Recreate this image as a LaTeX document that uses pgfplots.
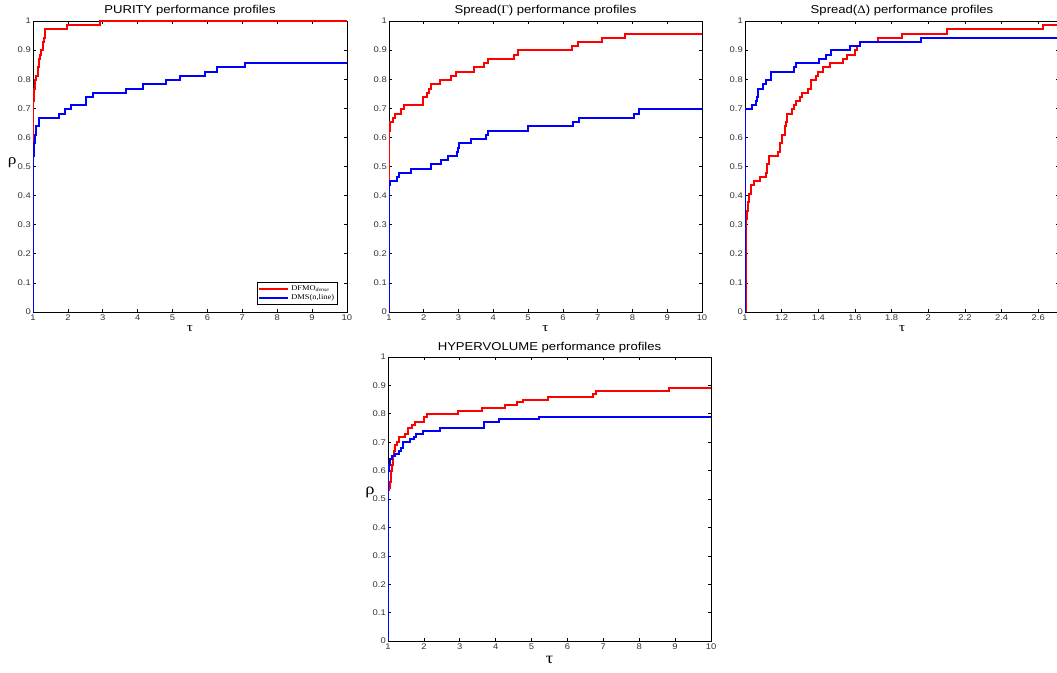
\documentclass[border=0pt]{standalone}
\usepackage{fontspec}
\setmainfont{Liberation Sans}[FakeStretch=1.15]
\newfontfamily\serif{Liberation Serif}[FakeStretch=1.15]
\usepackage{pgfplots}
\pgfplotsset{compat=1.18}
\newcommand\tickfont{\fontsize{8.2}{8.5}\selectfont}
\newcommand\titlefont{\fontsize{11.4}{12}\selectfont}
\pgfplotsset{
  mat/.style={
    scale only axis, anchor=south west,
    ymin=0, ymax=1,
    ytick={0,0.1,0.2,0.3,0.4,0.5,0.6,0.7,0.8,0.9,1},
    yticklabels={0,0.1,0.2,0.3,0.4,0.5,0.6,0.7,0.8,0.9,1},
    tick align=inside, major tick length=3pt,
    axis line style={line width=0.9pt, black},
    tick style={black, line width=0.6pt},
    ticklabel style={font=\tickfont, text=black!80},
    xticklabel style={inner sep=1.5pt, yshift=-1.5pt},
    yticklabel style={inner sep=2pt},
    /pgf/number format/assume math mode=true,
    every axis title shift=0pt,
    title style={font=\titlefont, at={(0.5,1)}, anchor=base, yshift=7pt, inner sep=0pt},
    every axis plot/.append style={line width=2pt, line join=miter},
    every axis x label/.style={at={(axis description cs:0.5,-0.058)}, anchor=center},
    every axis y label/.style={at={(axis description cs:-0.066,0.514)}, anchor=center},
    legend image code/.code={\draw[#1] (0pt,0pt) -- (29pt,0pt);},
  },
  tenx/.style={xmin=1, xmax=10, xtick={1,2,3,4,5,6,7,8,9,10},
    xticklabels={1,2,3,4,5,6,7,8,9,10}},
}
\begin{document}
\begin{tikzpicture}
\useasboundingbox (0pt,0pt) rectangle (1057pt,672pt);

% ---------------- PURITY
\begin{axis}[mat, tenx, at={(33pt,360pt)}, width=314pt, height=291pt,
  title={PURITY performance profiles},
  xlabel={\serif\fontsize{13}{13}\selectfont τ},
  ylabel={\serif\fontsize{15}{15}\selectfont ρ},
  legend style={at={(0.971,0.024)}, anchor=south east, draw=black, line width=0.6pt,
    font=\serif\fontsize{7.3}{7.5}\selectfont, inner sep=1.5pt, row sep=-1.5pt,
    cells={anchor=west}},
  legend cell align=left]
\addplot[red, const plot] coordinates {
(1,0) (1,0.725) (1.03,0.768) (1.06,0.797) (1.10,0.812) (1.13,0.841) (1.16,0.870)
(1.21,0.884) (1.24,0.899) (1.28,0.928) (1.31,0.942) (1.35,0.971) (1.97,0.986)
(2.91,1.0) (10,1.0)};
\addlegendentry{DFMO\textsubscript{\itshape dense}}
\addplot[blue, const plot] coordinates {
(1,0) (1,0.536) (1.02,0.580) (1.05,0.609) (1.10,0.638) (1.18,0.667) (1.75,0.681)
(1.91,0.696) (2.10,0.710) (2.53,0.739) (2.72,0.754) (3.66,0.768) (4.14,0.783)
(4.81,0.797) (5.20,0.812) (5.93,0.826) (6.27,0.841) (7.08,0.855) (10,0.855)};
\addlegendentry{DMS(n,line)}
\end{axis}

% ---------------- Spread(Gamma)
\begin{axis}[mat, tenx, at={(389pt,360pt)}, width=313pt, height=291pt,
  title={Spread({\serif Γ}) performance profiles},
  xlabel={\serif\fontsize{13}{13}\selectfont τ}]
\addplot[red, const plot] coordinates {
(1,0) (1,0.623) (1.04,0.652) (1.12,0.667) (1.16,0.681) (1.35,0.696) (1.43,0.710)
(1.97,0.739) (2.10,0.754) (2.15,0.768) (2.20,0.783) (2.48,0.797) (2.79,0.812)
(2.94,0.826) (3.43,0.841) (3.72,0.855) (3.86,0.870) (4.60,0.884) (4.72,0.899)
(6.27,0.913) (6.44,0.928) (7.13,0.942) (7.78,0.957) (10,0.957)};
\addplot[blue, const plot] coordinates {
(1,0) (1,0.435) (1.02,0.449) (1.24,0.464) (1.28,0.478) (1.62,0.493) (2.20,0.507)
(2.50,0.522) (2.70,0.536) (2.95,0.551) (2.98,0.565) (3.02,0.580) (3.35,0.594)
(3.80,0.609) (3.85,0.623) (5.00,0.638) (6.30,0.652) (6.45,0.667) (8.05,0.681)
(8.20,0.696) (10,0.696)};
\end{axis}

% ---------------- Spread(Delta)
\begin{axis}[mat, at={(745pt,360pt)}, width=314pt, height=291pt,
  xmin=1, xmax=2.713,
  xtick={1,1.2,1.4,1.6,1.8,2,2.2,2.4,2.6},
  xticklabels={1,1.2,1.4,1.6,1.8,2,2.2,2.4,2.6},
  title={Spread({\serif Δ}) performance profiles},
  xlabel={\serif\fontsize{13}{13}\selectfont τ}]
\addplot[red, const plot] coordinates {
(1,0) (1.006,0.319) (1.012,0.348) (1.018,0.377) (1.024,0.406) (1.030,0.435)
(1.048,0.449) (1.082,0.464) (1.115,0.478) (1.120,0.507) (1.130,0.536)
(1.178,0.551) (1.190,0.580) (1.200,0.609) (1.218,0.638) (1.225,0.652)
(1.231,0.681) (1.255,0.696) (1.265,0.710) (1.280,0.725) (1.300,0.739)
(1.310,0.754) (1.345,0.768) (1.360,0.797) (1.390,0.812) (1.400,0.826)
(1.424,0.841) (1.464,0.855) (1.536,0.870) (1.558,0.884) (1.600,0.899)
(1.613,0.913) (1.627,0.928) (1.724,0.942) (1.855,0.957) (2.100,0.971)
(2.627,0.986) (2.72,0.986)};
\addplot[blue, const plot] coordinates {
(1,0) (1,0.696) (1.036,0.710) (1.058,0.725) (1.065,0.739) (1.070,0.768)
(1.100,0.783) (1.115,0.797) (1.142,0.826) (1.267,0.841) (1.280,0.855)
(1.404,0.870) (1.440,0.884) (1.470,0.899) (1.573,0.913) (1.627,0.928)
(1.960,0.942) (2.72,0.942)};
\end{axis}

% ---------------- HYPERVOLUME
\begin{axis}[mat, tenx, at={(388pt,31pt)}, width=323pt, height=284pt,
  title={HYPERVOLUME performance profiles},
  title style={yshift=-0.5pt},
  xlabel={\serif\fontsize{16}{16}\selectfont τ},
  ylabel={\serif\fontsize{16}{16}\selectfont ρ},
  every axis x label/.style={at={(axis description cs:0.5,-0.066)}, anchor=center},
  every axis y label/.style={at={(axis description cs:-0.056,0.523)}, anchor=center}]
\addplot[red, const plot] coordinates {
(1,0) (1,0.53) (1.03,0.54) (1.05,0.56) (1.07,0.58) (1.09,0.60) (1.11,0.62)
(1.13,0.65) (1.17,0.67) (1.20,0.69) (1.24,0.70) (1.30,0.72) (1.47,0.73)
(1.56,0.75) (1.66,0.76) (1.75,0.77) (2.00,0.79) (2.08,0.80) (2.95,0.81)
(3.62,0.82) (4.25,0.83) (4.60,0.84) (4.75,0.85) (5.45,0.86) (6.72,0.87)
(6.80,0.88) (8.82,0.89) (10,0.89)};
\addplot[blue, const plot] coordinates {
(1,0) (1,0.60) (1.03,0.62) (1.06,0.64) (1.10,0.65) (1.20,0.66) (1.30,0.67)
(1.37,0.68) (1.43,0.70) (1.60,0.71) (1.72,0.72) (1.78,0.73) (1.97,0.74)
(2.45,0.75) (3.67,0.77) (4.10,0.78) (5.20,0.79) (10,0.79)};
\end{axis}
\end{tikzpicture}
\end{document}
